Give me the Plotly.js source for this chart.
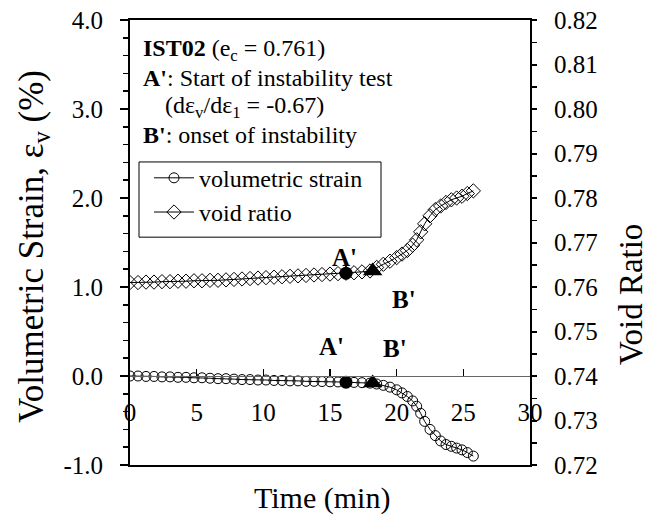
<!DOCTYPE html>
<html>
<head>
<meta charset="utf-8">
<script src="https://cdn.plot.ly/plotly-3.0.1.min.js"></script>
<style>
  html, body { margin: 0; padding: 0; background: #fff; }
  #chart { width: 655px; height: 522px; }
</style>
</head>
<body>
<div id="chart"></div>
<script>
// Test IST02: volumetric strain and void ratio against time
const timeMin = [0, 0.6, 1.2, 1.8, 2.4, 3.0, 3.6, 4.2, 4.8, 5.4, 6.0, 6.6, 7.2, 7.8, 8.4, 9.0, 9.6,
  10.2, 10.8, 11.4, 12.0, 12.6, 13.2, 13.8, 14.4, 15.0, 15.6, 16.2, 16.8, 17.4, 18.0,
  18.5, 19.0, 19.5, 20.0, 20.4, 20.8, 21.2, 21.5, 21.8, 22.1, 22.5, 22.9, 23.3, 23.7,
  24.1, 24.5, 24.9, 25.3, 25.75];

const volStrain = [0.000, 0.000, -0.005, -0.005, -0.010, -0.010, -0.015, -0.015, -0.020, -0.020,
  -0.025, -0.030, -0.030, -0.035, -0.040, -0.040, -0.045, -0.045, -0.050, -0.050,
  -0.055, -0.055, -0.060, -0.060, -0.062, -0.065, -0.067, -0.070, -0.072, -0.075, -0.080,
  -0.090, -0.105, -0.125, -0.155, -0.190, -0.230, -0.280, -0.340, -0.420, -0.510,
  -0.600, -0.670, -0.730, -0.770, -0.790, -0.810, -0.830, -0.860, -0.900];

const voidRatio = [0.7610, 0.7610, 0.7611, 0.7611, 0.7612, 0.7612, 0.7613, 0.7613, 0.7614, 0.7614,
  0.7615, 0.7615, 0.7616, 0.7617, 0.7618, 0.7619, 0.7620, 0.7621, 0.7622, 0.7623,
  0.7624, 0.7625, 0.7626, 0.7627, 0.7628, 0.7629, 0.7630, 0.7631, 0.7632, 0.7634, 0.7636,
  0.7644, 0.7651, 0.7658, 0.7666, 0.7674, 0.7682, 0.7694, 0.7706, 0.7724, 0.7742,
  0.7760, 0.7774, 0.7782, 0.7790, 0.7796, 0.7800, 0.7804, 0.7810, 0.7816];

// A' = start of instability test, B' = onset of instability
const pointTime = [16.2, 18.2];
const pointStrain = [-0.07, -0.08];
const pointVoid = [0.7631, 0.7636];
const pointNames = ["A'", "B'"];

const timeTicks = [0, 5, 10, 15, 20, 25, 30];
const strainTicks = [-1, 0, 1, 2, 3, 4];
const strainTickText = ["-1.0", "0.0", "1.0", "2.0", "3.0", "4.0"];
const voidTicks = [0.72, 0.73, 0.74, 0.75, 0.76, 0.77, 0.78, 0.79, 0.80, 0.81, 0.82];

const FONT = "Liberation Serif";

const traces = [
  {
    name: "volumetric strain", x: timeMin, y: volStrain, xaxis: "x", yaxis: "y",
    mode: "lines+markers", line: { color: "black", width: 1 },
    marker: { symbol: "circle-open", size: 10, color: "black", line: { width: 1, color: "black" } }
  },
  {
    name: "void ratio", x: timeMin, y: voidRatio, xaxis: "x", yaxis: "y2",
    mode: "lines+markers", line: { color: "black", width: 1 },
    marker: { symbol: "diamond-open", size: 11, color: "black", line: { width: 1, color: "black" } }
  },
  {
    x: [pointTime[0]], y: [pointStrain[0]], yaxis: "y", mode: "markers", showlegend: false,
    marker: { symbol: "circle", size: 13, color: "black" }
  },
  {
    x: [pointTime[1]], y: [pointStrain[1]], yaxis: "y", mode: "markers", showlegend: false,
    marker: { symbol: "triangle-up", size: 17, color: "black" }
  },
  {
    x: [pointTime[0]], y: [pointVoid[0]], yaxis: "y2", mode: "markers", showlegend: false,
    marker: { symbol: "circle", size: 13, color: "black" }
  },
  {
    x: [pointTime[1]], y: [pointVoid[1]], yaxis: "y2", mode: "markers", showlegend: false,
    marker: { symbol: "triangle-up", size: 17, color: "black" }
  },
  // frame axis (top and bottom border)
  { x: [], y: [], xaxis: "x2", yaxis: "y", showlegend: false, hoverinfo: "skip" }
];

function note(text, x, y, opts) {
  return Object.assign({
    text: text, x: x, y: y, xref: "paper", yref: "paper",
    xanchor: "left", yanchor: "middle", showarrow: false,
    font: { family: FONT, size: 24, color: "black" }
  }, opts || {});
}

function pointLabel(text, x, y) {
  return {
    text: "<b>" + text + "</b>", x: x, y: y, xref: "x", yref: "y",
    xanchor: "center", yanchor: "middle", showarrow: false,
    font: { family: FONT, size: 25, color: "black" }
  };
}

function axisTitle(text, x, y, size, angle) {
  return {
    text: text, x: x, y: y, xref: "paper", yref: "paper",
    xanchor: "center", yanchor: "middle", textangle: angle, showarrow: false,
    font: { family: FONT, size: size, color: "black" }
  };
}

const layout = {
  width: 655, height: 522,
  margin: { l: 130, r: 125, t: 20, b: 57 },
  paper_bgcolor: "white", plot_bgcolor: "white",
  font: { family: FONT, color: "black", size: 25 },
  showlegend: true,
  legend: {
    x: 0.0475, y: 0.695, xanchor: "left", yanchor: "top",
    bgcolor: "rgba(0,0,0,0)", borderwidth: 0,
    itemwidth: 40,
    font: { family: FONT, size: 24, color: "black" },
    tracegroupgap: 0
  },
  shapes: [
    // legend frame
    { type: "rect", xref: "paper", yref: "paper", x0: 0.0225, x1: 0.6275, y0: 0.512, y1: 0.681,
      line: { color: "black", width: 1 }, fillcolor: "rgba(0,0,0,0)", layer: "below" }
  ],
  xaxis: {
    range: [0, 30], anchor: "free", position: 0.2, domain: [0, 1],
    tickmode: "array", tickvals: timeTicks,
    ticks: "inside", ticklen: 7, tickwidth: 1.5, tickcolor: "black",
    showline: true, linecolor: "#666", linewidth: 1,
    showgrid: false, zeroline: false,
    tickfont: { family: FONT, size: 25, color: "black" },
    ticklabelstandoff: 14
  },
  xaxis2: {
    range: [0, 30], overlaying: "x", anchor: "y", side: "bottom",
    showline: true, mirror: true, linecolor: "black", linewidth: 2,
    showticklabels: false, ticks: "", showgrid: false, zeroline: false
  },
  yaxis: {
    range: [-1, 4], anchor: "x2",
    tickmode: "array", tickvals: strainTicks, ticktext: strainTickText,
    ticks: "outside", ticklen: 8, tickwidth: 2, tickcolor: "black",
    minor: { tickmode: "linear", tick0: -1, dtick: 0.2, ticks: "outside", ticklen: 5, tickwidth: 1.5, tickcolor: "black", showgrid: false },
    showline: true, linecolor: "black", linewidth: 2,
    showgrid: false, zeroline: false,
    tickfont: { family: FONT, size: 25, color: "black" },
    ticklabelstandoff: 12
  },
  yaxis2: {
    range: [0.72, 0.82], overlaying: "y", side: "right", anchor: "x2",
    tickmode: "array", tickvals: voidTicks, tickformat: ".2f",
    ticks: "outside", ticklen: 5, tickwidth: 2, tickcolor: "black",
    minor: { tickmode: "linear", tick0: 0.72, dtick: 0.005, ticks: "outside", ticklen: 5, tickwidth: 1.5, tickcolor: "black", showgrid: false },
    showline: true, linecolor: "black", linewidth: 2,
    showgrid: false, zeroline: false,
    tickfont: { family: FONT, size: 25, color: "black" },
    ticklabelstandoff: 12
  },
  annotations: [
    note("<b>IST02</b> (e<sub>c</sub> = 0.761)", 0.0275, 0.9326),
    note("<b>A'</b>: Start of instability test", 0.0275, 0.8697),
    note("(dε<sub>v</sub>/dε<sub>1</sub> = -0.67)", 0.0825, 0.8045),
    note("<b>B'</b>: onset of instability", 0.0275, 0.7416),
    pointLabel(pointNames[0], 16.1, 1.33),
    pointLabel(pointNames[1], 20.55, 0.86),
    pointLabel(pointNames[0], 15.1, 0.33),
    pointLabel(pointNames[1], 19.9, 0.31),
    axisTitle("Volumetric Strain, ε<sub>v</sub> (%)", -0.24, 0.49, 35, -90),
    axisTitle("Void Ratio", 1.2525, 0.384, 33, -90),
    axisTitle("Time (min)", 0.48, -0.075, 30, 0)
  ]
};

Plotly.newPlot("chart", traces, layout, { staticPlot: true, displayModeBar: false });
</script>
</body>
</html>
